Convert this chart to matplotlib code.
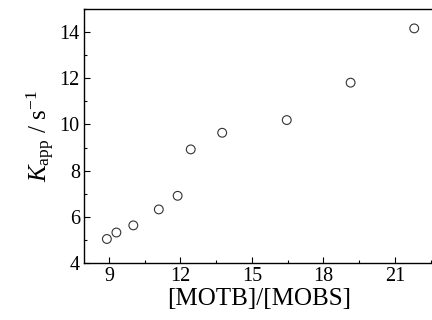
import matplotlib
matplotlib.use("Agg")
import matplotlib.pyplot as plt
from matplotlib.ticker import MultipleLocator

plt.rcParams['font.family'] = ['Liberation Serif']
plt.rcParams['mathtext.fontset'] = 'custom'
plt.rcParams['mathtext.rm'] = 'Liberation Serif'
plt.rcParams['mathtext.it'] = 'Liberation Serif:italic'

ratio = [8.91, 9.31, 10.02, 11.09, 11.88, 12.43, 13.75, 16.46, 19.14, 21.81]
kapp = [5.04, 5.32, 5.63, 6.32, 6.91, 8.92, 9.64, 10.19, 11.81, 14.16]
xticks = [9, 12, 15, 18, 21]
yticks = [4, 6, 8, 10, 12, 14]

fig = plt.figure(figsize=(4.32, 3.2), dpi=100)
ax = fig.add_axes([84/432, 57/320, 350/432, 254/320])
ax.scatter(ratio, kapp, s=40, facecolors='none', edgecolors='#333333', linewidths=0.8)
ax.set_xlim(7.95, 22.64)
ax.set_ylim(4, 15)
ax.set_xticks(xticks)
ax.set_yticks(yticks)
ax.xaxis.set_minor_locator(MultipleLocator(1.5))
ax.yaxis.set_minor_locator(MultipleLocator(1))
ax.tick_params(which='both', direction='in', top=False, right=False, labelsize=14.5)
ax.tick_params(which='major', length=4, width=0.8, pad=3)
ax.tick_params(which='minor', length=2.5, width=0.8)
for sp in ax.spines.values():
    sp.set_linewidth(1.0)
ax.set_xlabel('[MOTB]/[MOBS]', fontsize=18, labelpad=1)
ax.set_ylabel(r'$K_{\mathrm{app}}$ / s$^{-1}$', fontsize=18, labelpad=2)
fig.savefig('out.png', dpi=100)
